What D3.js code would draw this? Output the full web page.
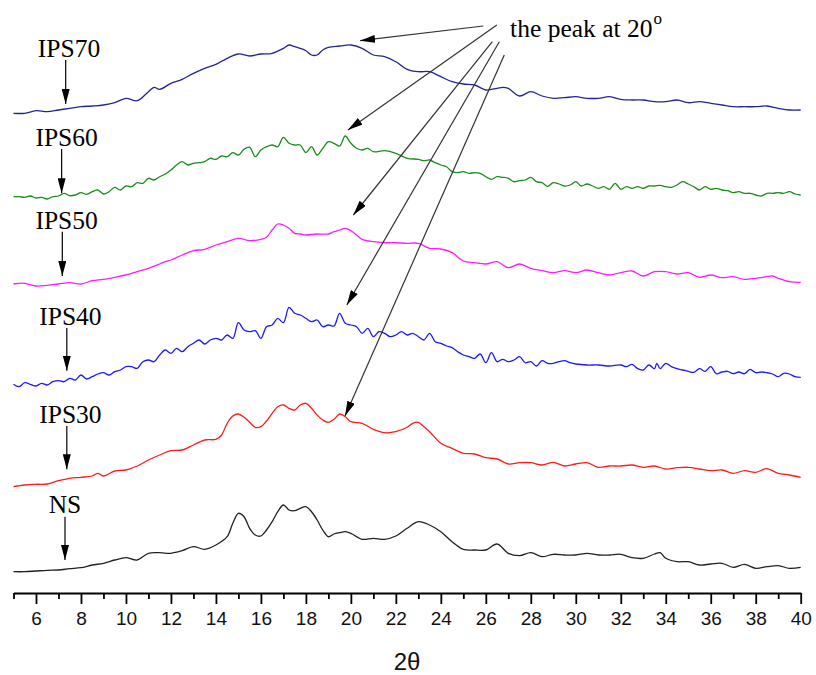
<!DOCTYPE html>
<html>
<head>
<meta charset="utf-8">
<script src="https://cdn.jsdelivr.net/npm/d3@7"></script>
<style>
  body { margin: 0; background: #fff; }
</style>
</head>
<body>
<script>
// XRD patterns: [2θ (deg), intensity (a.u.)], one array per sample
const NS = [[5,1.3],[5.5,1.3],[6,2],[6.5,2.7],[7,3],[7.5,4.3],[8,5.3],[8.5,8],[9,9.7],[9.5,13],[10,15.3],[10.5,13],[11,19.7],[11.5,20.3],[12,19.7],[12.5,22.3],[13,26.3],[13.5,23.7],[14,28],[14.5,36.3],[14.75,49.7],[15,59.7],[15.25,56.3],[15.5,44.7],[15.75,38],[16,37],[16.25,43],[16.5,51.3],[16.75,61.3],[17,68],[17.25,63],[17.5,62.3],[17.75,64.7],[18,66.3],[18.25,61.3],[18.5,53],[18.75,43],[19,36.3],[19.25,39],[19.5,40.3],[19.75,41.3],[20,39.7],[20.5,33.7],[21,34.7],[21.5,33.7],[22,37],[22.5,44.7],[23,51.3],[23.5,48],[24,41.3],[24.5,31.3],[25,23.7],[25.5,23],[26,23],[26.5,29],[27,19.7],[27.5,17.3],[28,20.3],[28.5,16.3],[29,18.7],[29.5,18],[30,18],[30.5,19.7],[31,18],[31.5,18],[32,18.7],[32.5,15.3],[33,14.7],[33.5,19],[33.75,20.3],[34,14.7],[34.5,11.3],[35,11.3],[35.5,8],[36,9],[36.5,9.7],[37,5.7],[37.5,8.7],[38,4.7],[38.5,6.3],[39,7.3],[39.5,4.7],[40,5.7]];

const IPS30 = [[5,1.3],[5.5,3],[6,3.7],[6.5,4],[7,7.3],[7.5,9.7],[8,10.7],[8.5,12],[8.75,14.7],[9,12],[9.5,17],[10,18],[10.5,22],[11,28],[11.5,33],[12,37.3],[12.5,38],[13,43],[13.5,48],[14,48.7],[14.25,53],[14.5,64.7],[14.75,72],[15,74],[15.25,70.7],[15.5,65.7],[15.75,60.7],[16,61.3],[16.25,67],[16.5,74.7],[16.75,81.3],[17,83],[17.25,79.7],[17.5,78],[17.75,83],[18,84.7],[18.25,79.7],[18.5,73],[18.75,68],[19,65.7],[19.25,68.7],[19.5,74],[19.75,71.3],[20,66.3],[20.5,64.7],[21,58.7],[21.5,55.3],[22,56.3],[22.5,60.7],[22.75,64.7],[23,65.7],[23.25,61.3],[23.5,56.3],[24,44.7],[24.5,39.7],[25,34.7],[25.5,34],[26,30.3],[26.5,29],[27,24],[27.5,25.3],[28,25.3],[28.5,23],[29,25.7],[29.5,22],[30,24],[30.5,25.3],[31,20.7],[31.5,22],[32,22],[32.5,23],[33,20.7],[33.5,22],[34,19],[34.5,20.3],[35,20.7],[35.5,19],[36,17.3],[36.5,18],[37,14.7],[37.5,17.3],[38,15.7],[38.5,19.3],[39,14.7],[39.5,13],[40,10.7]];

const IPS40 = [[5,2.7],[5.25,0.3],[5.5,4.3],[5.75,2.7],[6,1],[6.25,3.7],[6.5,2],[6.75,5.3],[7,6.3],[7.25,5.3],[7.5,8.7],[7.75,7],[8,12],[8.25,8],[8.5,10.3],[8.75,13],[9,14.3],[9.25,12],[9.5,15.3],[9.75,17],[10,20.3],[10.25,20.3],[10.5,18.7],[10.75,25.3],[11,27],[11.25,25.3],[11.5,32],[11.75,37],[12,33.7],[12.25,38.7],[12.5,35.3],[12.75,40.3],[13,43.7],[13.25,47],[13.5,43],[13.75,47],[14,48.7],[14.25,47],[14.5,52],[14.75,48.7],[15,64.3],[15.25,57],[15.5,55.3],[15.75,56.3],[16,48.7],[16.25,60.3],[16.5,62],[16.75,68.7],[17,64.3],[17.25,79.7],[17.5,73.7],[17.75,72],[18,68.7],[18.25,65.3],[18.5,67],[18.75,60.3],[19,62],[19.25,61],[19.5,73.7],[19.75,63.7],[20,62],[20.25,60.3],[20.5,53.7],[20.75,58.7],[21,50.3],[21.25,55.3],[21.5,53.7],[21.75,50.3],[22,52],[22.25,55.3],[22.5,52],[22.75,53.7],[23,50.3],[23.25,47],[23.5,53.7],[23.75,45.3],[24,43.7],[24.25,41],[24.5,39.3],[24.75,35.3],[25,32],[25.25,30.3],[25.5,28.7],[25.75,33],[26,24.3],[26.25,34.3],[26.5,25.3],[26.75,27.7],[27,25.3],[27.25,27],[27.5,30.3],[27.75,24.3],[28,25.3],[28.25,21],[28.5,26.3],[28.75,23.7],[29,23.7],[29.25,25.3],[29.5,26.3],[29.75,24.3],[30,23],[30.5,22],[31,22],[31.5,21],[32,22],[32.25,20.3],[32.5,22.7],[32.75,18.3],[33,17],[33.25,22],[33.5,18.3],[33.6,23.7],[33.75,18.3],[34,23.7],[34.25,20.3],[34.5,18.3],[34.75,17],[35,15.7],[35.25,14.7],[35.5,18.3],[35.75,15.7],[36,20.3],[36.25,13.3],[36.5,15],[36.75,15.7],[37,13.3],[37.25,15],[37.5,13.3],[37.75,17.7],[38,14.3],[38.25,15],[38.5,14.3],[38.75,13],[39,10.3],[39.25,13.7],[39.5,13],[39.75,10.3],[40,9.7]];

const IPS50 = [[5,1],[5.5,1.7],[6,-1],[6.5,-0.3],[7,1],[7.5,2.3],[8,1],[8.5,4.3],[9,5.7],[9.5,7.7],[10,10],[10.5,13.3],[11,16.7],[11.5,21],[11.75,23.3],[12,25],[12.5,30],[13,34.3],[13.5,35.7],[14,40],[14.5,43.3],[15,46.7],[15.5,44.3],[16,45.7],[16.25,47.7],[16.5,55],[16.75,61],[17,60],[17.25,56.7],[17.5,51.7],[17.75,51],[18,50],[18.5,51],[19,51],[19.25,53.3],[19.5,55],[19.75,56.7],[20,54.3],[20.25,50],[20.5,45.7],[21,43.3],[21.5,42.3],[22,42.3],[22.5,41.7],[23,41.7],[23.5,36.7],[24,36],[24.5,32.3],[25,24],[25.5,22.3],[26,21],[26.5,23.3],[27,17.3],[27.5,21],[28,16.7],[28.5,14.3],[29,12.3],[29.5,14.3],[30,12.3],[30.5,15],[31,12.3],[31.5,10],[32,12.3],[32.5,14],[33,9],[33.5,13.3],[34,13.3],[34.5,11],[35,12.3],[35.5,7.7],[36,10],[36.5,7.3],[37,8.3],[37.5,5.7],[38,6.7],[38.5,8.3],[38.75,9],[39,6.7],[39.5,3.3],[40,2.7]];

const IPS60 = [[5,1.3],[5.25,1.3],[5.5,0.7],[5.75,2],[6,0],[6.25,0.7],[6.5,-1],[6.75,1.3],[7,2],[7.25,4.7],[7.5,2.3],[7.75,3],[8,5.3],[8.25,3.7],[8.5,6.3],[8.75,8],[9,4],[9.25,6.3],[9.5,10.7],[9.75,8],[10,12],[10.25,11.3],[10.5,15.3],[10.75,14.7],[11,19.7],[11.25,18],[11.5,21.3],[11.75,24],[12,28],[12.25,33],[12.5,36.3],[12.75,33],[13,34.7],[13.25,35.3],[13.5,36.3],[13.75,39.7],[14,38.7],[14.25,42],[14.5,41.3],[14.75,45.3],[15,43],[15.25,48.7],[15.5,50.7],[15.75,41.3],[16,48],[16.25,51.3],[16.5,53],[16.75,51.3],[17,60.7],[17.25,54.7],[17.5,53],[17.75,53],[18,45.3],[18.25,51.3],[18.5,43],[18.75,49.7],[19,56.3],[19.25,54.7],[19.5,52],[19.75,62],[20,54.7],[20.25,49.7],[20.5,48],[20.75,49.7],[21,46.3],[21.5,47.3],[22,44.7],[22.5,39.7],[23,38.7],[23.25,37.3],[23.5,38],[23.75,35.3],[24,33],[24.25,31.3],[24.5,26.3],[24.75,25.3],[25,26.3],[25.25,24.7],[25.5,25.3],[25.75,24.7],[26,21.3],[26.25,18.7],[26.5,21.3],[26.75,20.7],[27,19.7],[27.25,16.3],[27.5,17.3],[27.75,18],[28,20.7],[28.25,16.3],[28.5,15.3],[28.75,11.7],[29,15.3],[29.25,14],[29.5,12],[29.75,13],[30,16.3],[30.25,12],[30.5,14],[30.75,12],[31,9.7],[31.25,11.3],[31.5,8.7],[31.75,14.7],[32,8.7],[32.25,11.3],[32.5,9.7],[32.75,11.3],[33,9.7],[33.25,12],[33.5,12],[33.75,12.7],[34,11.3],[34.25,10.7],[34.5,13],[34.75,16.3],[35,14],[35.25,11.3],[35.5,8],[35.75,11.3],[36,8.7],[36.25,9.7],[36.5,8],[36.75,7.3],[37,5.3],[37.25,6.3],[37.5,4.7],[37.75,4.7],[38,3],[38.25,2],[38.5,4.7],[38.75,4.7],[39,5.3],[39.25,4.7],[39.5,6.3],[39.75,4],[40,3]];

const IPS70 = [[5,1.7],[5.5,1.7],[6,4.3],[6.5,3.3],[7,5],[7.5,6.7],[8,8.3],[8.5,9],[9,10],[9.5,12.3],[10,16.7],[10.5,14.3],[11,23.3],[11.25,27.7],[11.5,25.7],[12,31.7],[12.5,35.7],[13,41.7],[13.5,46.7],[14,50.7],[14.5,56.7],[15,61],[15.5,59],[16,61],[16.5,61.7],[17,66.7],[17.25,70],[17.5,68.3],[18,64.3],[18.25,60],[18.5,60],[18.75,65],[19,67.7],[19.5,69],[20,70],[20.5,66.7],[21,60],[21.5,58.3],[22,53.3],[22.5,45.7],[23,43.3],[23.5,43.3],[24,38.3],[24.5,33.3],[25,31],[25.5,30],[26,25],[26.5,26.7],[26.75,27.7],[27,26.7],[27.5,19],[28,23.3],[28.5,19],[29,16.7],[29.5,17.3],[30,18.3],[30.5,16.7],[31,16.7],[31.5,18.3],[32,15.7],[32.5,15],[33,15],[33.5,13.3],[34,13.3],[34.5,15],[35,12.3],[35.5,13.3],[36,11.7],[36.5,10],[37,8.3],[37.5,8.3],[38,8.3],[38.5,9],[39,6.7],[39.5,5],[40,5]];

const seriesNames   = ["NS", "IPS30", "IPS40", "IPS50", "IPS60", "IPS70"];
const seriesData    = [NS, IPS30, IPS40, IPS50, IPS60, IPS70];
const seriesOffsets = [20, 105, 206, 308, 395, 478];   // vertical stacking (a.u.)
const seriesColors  = ["#222222", "#ff1a1a", "#1a1aff", "#ff1aff", "#1a8c1a", "#24249a"];

// sample labels + pointer arrows (2θ, stacked a.u.)
const labelAngle    = [7.29, 7.53, 7.53, 7.36, 7.36, 7.47];
const labelLevel    = [80.3, 169.7, 268, 363.7, 447, 536];
const pointerAngle  = [7.29, 7.37, 7.37, 7.17, 7.14, 7.32];
const pointerTop    = [76.3, 167, 265, 361.3, 444, 533];
const pointerTip    = [33, 123.7, 222.3, 317, 399.7, 489];

// "the peak at 20°" callout lines: start and tip (2θ, stacked a.u.)
const peakFrom = [[25.89, 567], [26.49, 568], [26.29, 551.3], [26.60, 551.3], [26.82, 538]];
const peakTo   = [[20.41, 552.3], [19.87, 463], [20.11, 378], [19.82, 288], [19.74, 177]];
const peakText = [27.08, 556.3];

const width = 816, height = 675;

const x = d3.scaleLinear().domain([5, 40]).range([13.5, 800.7]);
const y = d3.scaleLinear().domain([0, 580]).range([593, 13]);

const svg = d3.select("body").append("svg")
  .attr("width", width)
  .attr("height", height);

// arrow heads
const defs = svg.append("defs");
defs.append("marker")
  .attr("id", "head")
  .attr("viewBox", "0 0 15 8")
  .attr("refX", 15)
  .attr("refY", 4)
  .attr("markerWidth", 15)
  .attr("markerHeight", 8)
  .attr("markerUnits", "userSpaceOnUse")
  .attr("orient", "auto")
  .append("path")
  .attr("d", "M0,0L15,4L0,8Z")
  .attr("fill", "#000");

//============//
// the curves //
//============//
const line = d3.line()
  .x(d => x(d[0]))
  .y(d => y(d[1]))
  .curve(d3.curveCatmullRom.alpha(0.5));

seriesData.forEach((data, i) => {
  svg.append("path")
    .datum(data.map(d => [d[0], d[1] + seriesOffsets[i]]))
    .attr("fill", "none")
    .attr("stroke", seriesColors[i])
    .attr("stroke-width", 1.3)
    .attr("stroke-linejoin", "round")
    .attr("d", line);
});

//======//
// axis //
//======//
const gx = svg.append("g").attr("transform", `translate(0,${y(0)})`);

gx.call(d3.axisBottom(x)
  .tickValues(d3.range(6, 41, 2))
  .tickSize(11)
  .tickSizeOuter(0)
  .tickFormat(d3.format("d")));

gx.append("g").call(d3.axisBottom(x)
  .tickValues(d3.range(5, 41, 2))
  .tickSize(6)
  .tickSizeOuter(0)
  .tickFormat(""))
  .select(".domain").remove();

gx.selectAll(".domain, .tick line")
  .attr("stroke", "#000")
  .attr("stroke-width", 1.8);

gx.selectAll(".tick text")
  .attr("y", 19)
  .attr("fill", "#111")
  .style("font-family", "'Liberation Sans', Arial, sans-serif")
  .style("font-size", "19px");

svg.append("text")
  .attr("x", (x(5) + x(40)) / 2)
  .attr("y", 670)
  .attr("text-anchor", "middle")
  .style("font-family", "'Liberation Sans', Arial, sans-serif")
  .style("font-size", "24px")
  .attr("fill", "#111")
  .text("2θ");

//=============//
// annotations //
//=============//
const serif = "'Liberation Serif', 'Times New Roman', serif";

seriesNames.forEach((name, i) => {
  svg.append("text")
    .attr("x", x(labelAngle[i]))
    .attr("y", y(labelLevel[i]))
    .attr("text-anchor", "middle")
    .style("font-family", serif)
    .style("font-size", "25.5px")
    .attr("fill", "#000")
    .text(name);

  svg.append("line")
    .attr("x1", x(pointerAngle[i]))
    .attr("x2", x(pointerAngle[i]))
    .attr("y1", y(pointerTop[i]))
    .attr("y2", y(pointerTip[i]))
    .attr("stroke", "#000")
    .attr("stroke-width", 1.2)
    .attr("marker-end", "url(#head)");
});

peakFrom.forEach((p, i) => {
  svg.append("line")
    .attr("x1", x(p[0]))
    .attr("y1", y(p[1]))
    .attr("x2", x(peakTo[i][0]))
    .attr("y2", y(peakTo[i][1]))
    .attr("stroke", "#333")
    .attr("stroke-width", 1.2)
    .attr("marker-end", "url(#head)");
});

const pt = svg.append("text")
  .attr("x", x(peakText[0]))
  .attr("y", y(peakText[1]))
  .style("font-family", serif)
  .style("font-size", "25.5px")
  .attr("fill", "#000");
pt.append("tspan").text("the peak at 20");
pt.append("tspan")
  .attr("dy", -13)
  .attr("dx", 1)
  .style("font-size", "17px")
  .text("o");
</script>
</body>
</html>
